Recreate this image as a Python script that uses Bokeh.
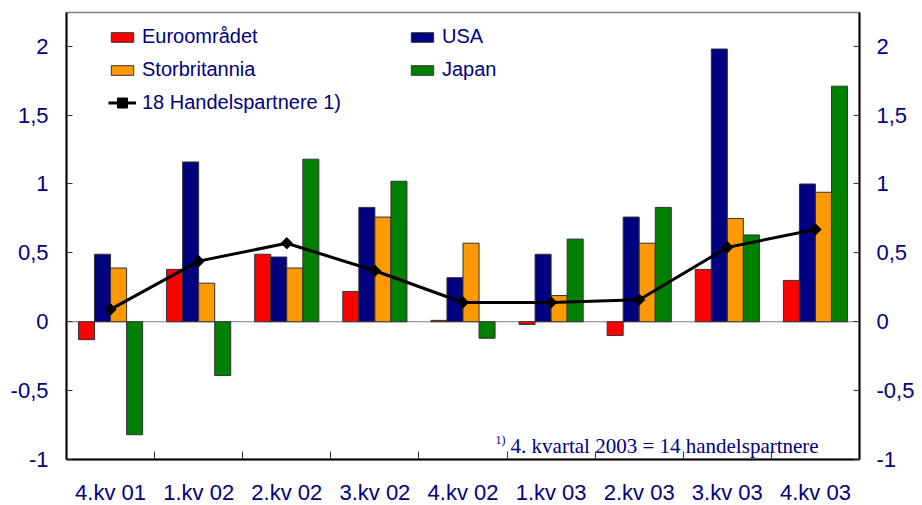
import numpy as np
from bokeh.plotting import figure
from bokeh.models import (LinearAxis, FixedTicker, Range1d, Span, Legend,
                          LegendItem, Label)
from bokeh.embed import file_html
from bokeh.resources import INLINE

categories = ["4.kv 01", "1.kv 02", "2.kv 02", "3.kv 02", "4.kv 02",
              "1.kv 03", "2.kv 03", "3.kv 03", "4.kv 03"]
euro = [-0.13, 0.38, 0.49, 0.22, 0.01, -0.02, -0.10, 0.38, 0.30]
usa = [0.49, 1.16, 0.47, 0.83, 0.32, 0.49, 0.76, 1.98, 1.00]
uk = [0.39, 0.28, 0.39, 0.76, 0.57, 0.19, 0.57, 0.75, 0.94]
japan = [-0.82, -0.39, 1.18, 1.02, -0.12, 0.60, 0.83, 0.63, 1.71]
partners18 = [0.09, 0.44, 0.57, 0.37, 0.14, 0.14, 0.16, 0.54, 0.67]
y_ticks = [-1, -0.5, 0, 0.5, 1, 1.5, 2]
y_tick_labels = ["-1", "-0,5", "0", "0,5", "1", "1,5", "2"]

FONT = "Liberation Sans"
TXT = "#000080"

n = len(categories)
centers = np.arange(n) + 0.5
bounds = list(range(1, n))

p = figure(frame_width=793, frame_height=447,
           x_range=Range1d(0, n), y_range=Range1d(-1, 2.245),
           output_backend="svg", toolbar_location=None,
           min_border_left=66, min_border_right=56,
           min_border_top=12, min_border_bottom=44)
p.xgrid.grid_line_color = None
p.ygrid.grid_line_color = None
p.outline_line_color = "#808080"
p.outline_line_width = 1.5

p.add_layout(Span(location=0, dimension="width", line_color="#808080",
                  line_width=1, level="underlay"))

bw = 0.182
series = [(euro, "#FF0000", -1.5), (usa, "#000080", -0.5),
          (uk, "#FF9900", 0.5), (japan, "#008000", 1.5)]
rs = []
for vals, col, k in series:
    r = p.vbar(x=centers + k * bw, top=vals, bottom=0, width=bw,
               fill_color=col, line_color="#333333", line_width=1)
    rs.append(r)

rl = p.line(centers, partners18, line_color="black", line_width=3)
rp = p.scatter(centers, partners18, marker="square", angle=np.pi / 4,
               size=8, color="black")

# axes
xa = p.xaxis[0]
xa.ticker = FixedTicker(ticks=list(centers), minor_ticks=bounds)
xa.major_label_overrides = {float(c): lab for c, lab in zip(centers, categories)}
xa.major_tick_line_color = None
xa.minor_tick_in = 8
xa.minor_tick_out = 0
xa.minor_tick_line_color = "#333333"
xa.axis_line_color = "black"
xa.axis_line_width = 2
xa.major_label_text_font = FONT
xa.major_label_text_font_size = "22px"
xa.major_label_text_color = TXT
xa.major_label_standoff = 14

ya = p.yaxis[0]
ry = LinearAxis()
p.add_layout(ry, "right")
for ax, so in ((ya, 18), (ry, 17)):
    ax.ticker = FixedTicker(ticks=y_ticks)
    ax.major_label_overrides = {float(t): l for t, l in zip(y_ticks, y_tick_labels)}
    ax.major_tick_in = 6
    ax.major_tick_out = 0
    ax.major_tick_line_color = "#333333"
    ax.minor_tick_line_color = None
    ax.axis_line_color = "black"
    ax.axis_line_width = 2
    ax.major_label_text_font = FONT
    ax.major_label_text_font_size = "22px"
    ax.major_label_text_color = TXT
    ax.major_label_standoff = so

common = dict(glyph_width=28, glyph_height=12, label_height=20, spacing=10,
              label_standoff=6, padding=0, margin=0, border_line_color=None,
              background_fill_alpha=0, label_text_font=FONT,
              label_text_font_size="20px", label_text_color=TXT)
leg1 = Legend(items=[LegendItem(label="Euroområdet", renderers=[rs[0]]),
                     LegendItem(label="Storbritannia", renderers=[rs[2]])],
              location=(42, 378), **common)
line_opts = dict(common)
line_opts["glyph_height"] = 25
leg3 = Legend(items=[LegendItem(label="18 Handelspartnere 1)", renderers=[rl, rp])],
              location=(42, 344), **line_opts)
leg2 = Legend(items=[LegendItem(label="USA", renderers=[rs[1]]),
                     LegendItem(label="Japan", renderers=[rs[3]])],
              location=(342, 378), **common)
p.add_layout(leg1)
p.add_layout(leg2)
p.add_layout(leg3)

p.add_layout(Label(x=5.04, y=-0.90, text="4. kvartal 2003 = 14 handelspartnere",
                   text_font="Liberation Serif", text_font_size="21px",
                   text_color=TXT, text_baseline="alphabetic"))
p.add_layout(Label(x=4.87, y=-0.86, text="1)",
                   text_font="Liberation Serif", text_font_size="12px",
                   text_color=TXT, text_baseline="alphabetic"))

open("out.html", "w").write(file_html(p, INLINE))
